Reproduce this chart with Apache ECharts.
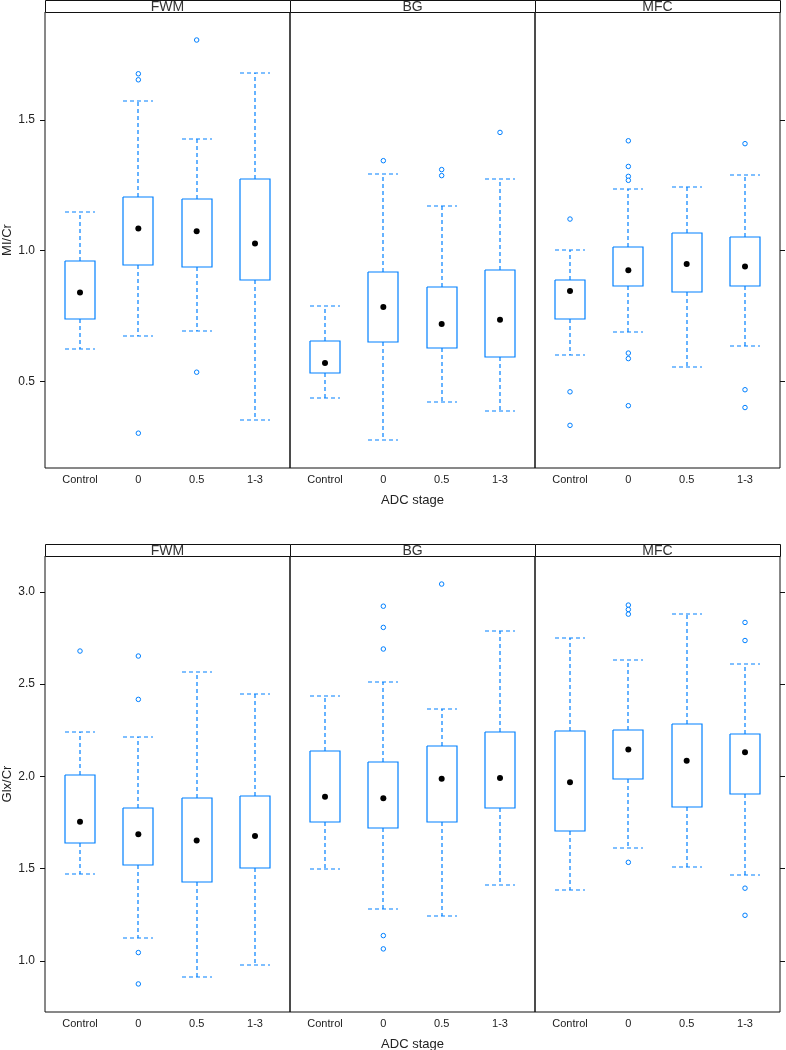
<!DOCTYPE html>
<html>
<head>
<meta charset="utf-8">
<script src="https://cdn.jsdelivr.net/npm/echarts@6/dist/echarts.min.js"></script>
<style>
html,body{margin:0;padding:0;background:#fff;}
#chart{width:786px;height:1050px;}
</style>
</head>
<body>
<div id="chart"></div>
<script>
// ---- data ----
const categories = ['Control', '0', '0.5', '1-3'];
const regions = ['FWM', 'BG', 'MFC'];
const xTitle = 'ADC stage';
const yTitles = ['MI/Cr', 'Glx/Cr'];
const yTicksMI = [0.5, 1.0, 1.5];
const yTicksGlx = [1.0, 1.5, 2.0, 2.5, 3.0];
const yRangeMI = [0.170, 1.912];
const yRangeGlx = [0.723, 3.194];

// box stats per category: [lower whisker, Q1, median, Q3, upper whisker]
const miFWM = [
  [0.624, 0.740, 0.840, 0.962, 1.148],
  [0.673, 0.945, 1.085, 1.205, 1.573],
  [0.692, 0.936, 1.074, 1.198, 1.425],
  [0.352, 0.887, 1.028, 1.275, 1.680]
];
const miBG = [
  [0.439, 0.533, 0.571, 0.656, 0.787],
  [0.277, 0.650, 0.785, 0.919, 1.293],
  [0.424, 0.630, 0.720, 0.861, 1.172],
  [0.386, 0.595, 0.736, 0.926, 1.275]
];
const miMFC = [
  [0.601, 0.740, 0.846, 0.889, 1.004],
  [0.689, 0.865, 0.925, 1.013, 1.237],
  [0.556, 0.843, 0.949, 1.066, 1.242],
  [0.637, 0.865, 0.940, 1.051, 1.290]
];
// outliers: [category index, value]
const miFWMOut = [[1, 1.676], [1, 1.653], [1, 0.303], [2, 1.805], [2, 0.536]];
const miBGOut = [[1, 1.344], [2, 1.310], [2, 1.287], [3, 1.452]];
const miMFCOut = [[0, 1.121], [0, 0.461], [0, 0.333], [1, 1.420], [1, 1.322], [1, 1.284], [1, 1.269],
  [1, 0.609], [1, 0.588], [1, 0.408], [3, 1.409], [3, 0.469], [3, 0.401]];

const glxFWM = [
  [1.469, 1.637, 1.754, 2.005, 2.242],
  [1.123, 1.520, 1.686, 1.828, 2.215],
  [0.912, 1.428, 1.653, 1.883, 2.567],
  [0.977, 1.505, 1.677, 1.892, 2.448]
];
const glxBG = [
  [1.496, 1.755, 1.890, 2.135, 2.437],
  [1.282, 1.718, 1.881, 2.076, 2.513],
  [1.242, 1.755, 1.987, 2.162, 2.365],
  [1.413, 1.828, 1.991, 2.238, 2.787]
];
const glxMFC = [
  [1.383, 1.704, 1.968, 2.247, 2.747],
  [1.610, 1.984, 2.146, 2.249, 2.628],
  [1.509, 1.836, 2.085, 2.283, 2.881],
  [1.464, 1.906, 2.130, 2.227, 2.610]
];
const glxFWMOut = [[0, 2.679], [1, 2.652], [1, 2.417], [1, 1.045], [1, 0.875]];
const glxBGOut = [[1, 2.922], [1, 2.807], [1, 2.690], [1, 1.137], [1, 1.065], [2, 3.042]];
const glxMFCOut = [[1, 2.928], [1, 2.904], [1, 2.879], [1, 1.534], [3, 2.834], [3, 2.736], [3, 1.394], [3, 1.247]];

// ---- styling / layout ----
const BLUE = '#0080ff';
const TEXT = '#222';
const FONT = '"Liberation Sans", Arial, sans-serif';
const PANEL_LEFT = 45, PANEL_W = 245, PANEL_H = 456, STRIP_H = 12;
const plotTops = [12, 556];
const BOX_WIDTH = 0.5;

const plots = [
  { title: yTitles[0], ticks: yTicksMI, range: yRangeMI, stats: [miFWM, miBG, miMFC], outs: [miFWMOut, miBGOut, miMFCOut] },
  { title: yTitles[1], ticks: yTicksGlx, range: yRangeGlx, stats: [glxFWM, glxBG, glxMFC], outs: [glxFWMOut, glxBGOut, glxMFCOut] }
];

function renderBox(params, api) {
  const x = api.value(0);
  const lo = api.value(1), q1 = api.value(2), q3 = api.value(4), hi = api.value(5);
  const halfW = api.size([BOX_WIDTH, 0])[0] / 2;
  const pLo = api.coord([x, lo]), pQ1 = api.coord([x, q1]), pQ3 = api.coord([x, q3]), pHi = api.coord([x, hi]);
  const cx = Math.round(pLo[0]);
  const l = Math.round(cx - halfW), r = Math.round(cx + halfW);
  const yHi = Math.round(pHi[1]), yLo = Math.round(pLo[1]);
  const yQ3 = Math.round(pQ3[1]), yQ1 = Math.round(pQ1[1]);
  const dash = { stroke: BLUE, lineWidth: 1.2, lineDash: [4, 3], fill: null };
  const solid = { stroke: BLUE, lineWidth: 1.2, fill: null };
  return {
    type: 'group',
    children: [
      { type: 'line', shape: { x1: cx, y1: yQ3, x2: cx, y2: yHi }, style: dash },
      { type: 'line', shape: { x1: cx, y1: yQ1, x2: cx, y2: yLo }, style: dash },
      { type: 'line', shape: { x1: l, y1: yHi, x2: r, y2: yHi }, style: dash },
      { type: 'line', shape: { x1: l, y1: yLo, x2: r, y2: yLo }, style: dash },
      { type: 'polyline', shape: { points: [[l, yQ3], [r, yQ3], [r, yQ1], [l, yQ1], [l, yQ3]] }, style: solid }
    ]
  };
}

const grid = [], xAxis = [], yAxis = [], series = [], graphic = [];
plots.forEach((p, pi) => {
  regions.forEach((reg, ri) => {
    const gi = pi * 3 + ri;
    const left = PANEL_LEFT + ri * PANEL_W;
    grid.push({
      left: left, top: plotTops[pi], width: PANEL_W, height: PANEL_H,
      containLabel: false, outerBoundsMode: 'none',
      show: true, borderColor: '#111', borderWidth: 1, backgroundColor: 'transparent'
    });
    xAxis.push({
      type: 'value', gridIndex: gi, min: 0.4, max: categories.length + 0.6,
      axisLine: { show: false }, axisTick: { show: false }, splitLine: { show: false },
      axisLabel: {
        customValues: categories.map((c, i) => i + 1),
        formatter: v => categories[Math.round(v) - 1] || '',
        fontSize: 11, color: TEXT, fontFamily: FONT, margin: 6
      },
      name: ri === 1 ? xTitle : '', nameLocation: 'middle', nameGap: 26,
      nameTextStyle: { fontSize: 13, color: TEXT, fontFamily: FONT }
    });
    yAxis.push({
      type: 'value', gridIndex: gi, min: p.range[0], max: p.range[1],
      position: ri === 2 ? 'right' : 'left',
      axisLine: { show: false },
      splitLine: { show: false },
      axisTick: { show: ri !== 1, length: 5, lineStyle: { color: '#111' }, customValues: p.ticks },
      axisLabel: {
        show: ri === 0, customValues: p.ticks, formatter: v => Number(v).toFixed(1),
        fontSize: 12, color: TEXT, fontFamily: FONT, margin: 10
      },
      name: ri === 0 ? p.title : '', nameLocation: 'middle', nameGap: 31, nameRotate: 90,
      nameTextStyle: { fontSize: 13, color: TEXT, fontFamily: FONT }
    });
    series.push({
      type: 'custom', xAxisIndex: gi, yAxisIndex: gi, renderItem: renderBox, silent: true,
      itemStyle: { color: BLUE, borderColor: BLUE },
      data: p.stats[ri].map((s, ci) => [ci + 1].concat(s))
    });
    series.push({
      type: 'scatter', xAxisIndex: gi, yAxisIndex: gi, silent: true, z: 5,
      symbol: 'circle', symbolSize: 6, itemStyle: { color: '#000', opacity: 1 },
      data: p.stats[ri].map((s, ci) => [ci + 1, s[2]])
    });
    series.push({
      type: 'scatter', xAxisIndex: gi, yAxisIndex: gi, silent: true, z: 4,
      symbol: 'circle', symbolSize: 4.5,
      itemStyle: { color: '#fff', borderColor: BLUE, borderWidth: 1, opacity: 1 },
      data: p.outs[ri].map(o => [o[0] + 1, o[1]])
    });
    // strip
    graphic.push({
      type: 'rect', silent: true,
      shape: { x: left + 0.5, y: plotTops[pi] - STRIP_H + 0.5, width: PANEL_W, height: STRIP_H },
      style: { fill: '#fff', stroke: '#111', lineWidth: 1 }
    });
    graphic.push({
      type: 'text', silent: true, z: 10,
      x: left + PANEL_W / 2, y: plotTops[pi] - STRIP_H / 2 + 1.5,
      style: { text: reg, align: 'center', verticalAlign: 'middle', fontSize: 14, fill: '#333', fontFamily: FONT }
    });
  });
});

const chart = echarts.init(document.getElementById('chart'), null, { renderer: 'canvas' });
chart.setOption({
  animation: false,
  backgroundColor: '#fff',
  grid, xAxis, yAxis, series, graphic
});
</script>
</body>
</html>
